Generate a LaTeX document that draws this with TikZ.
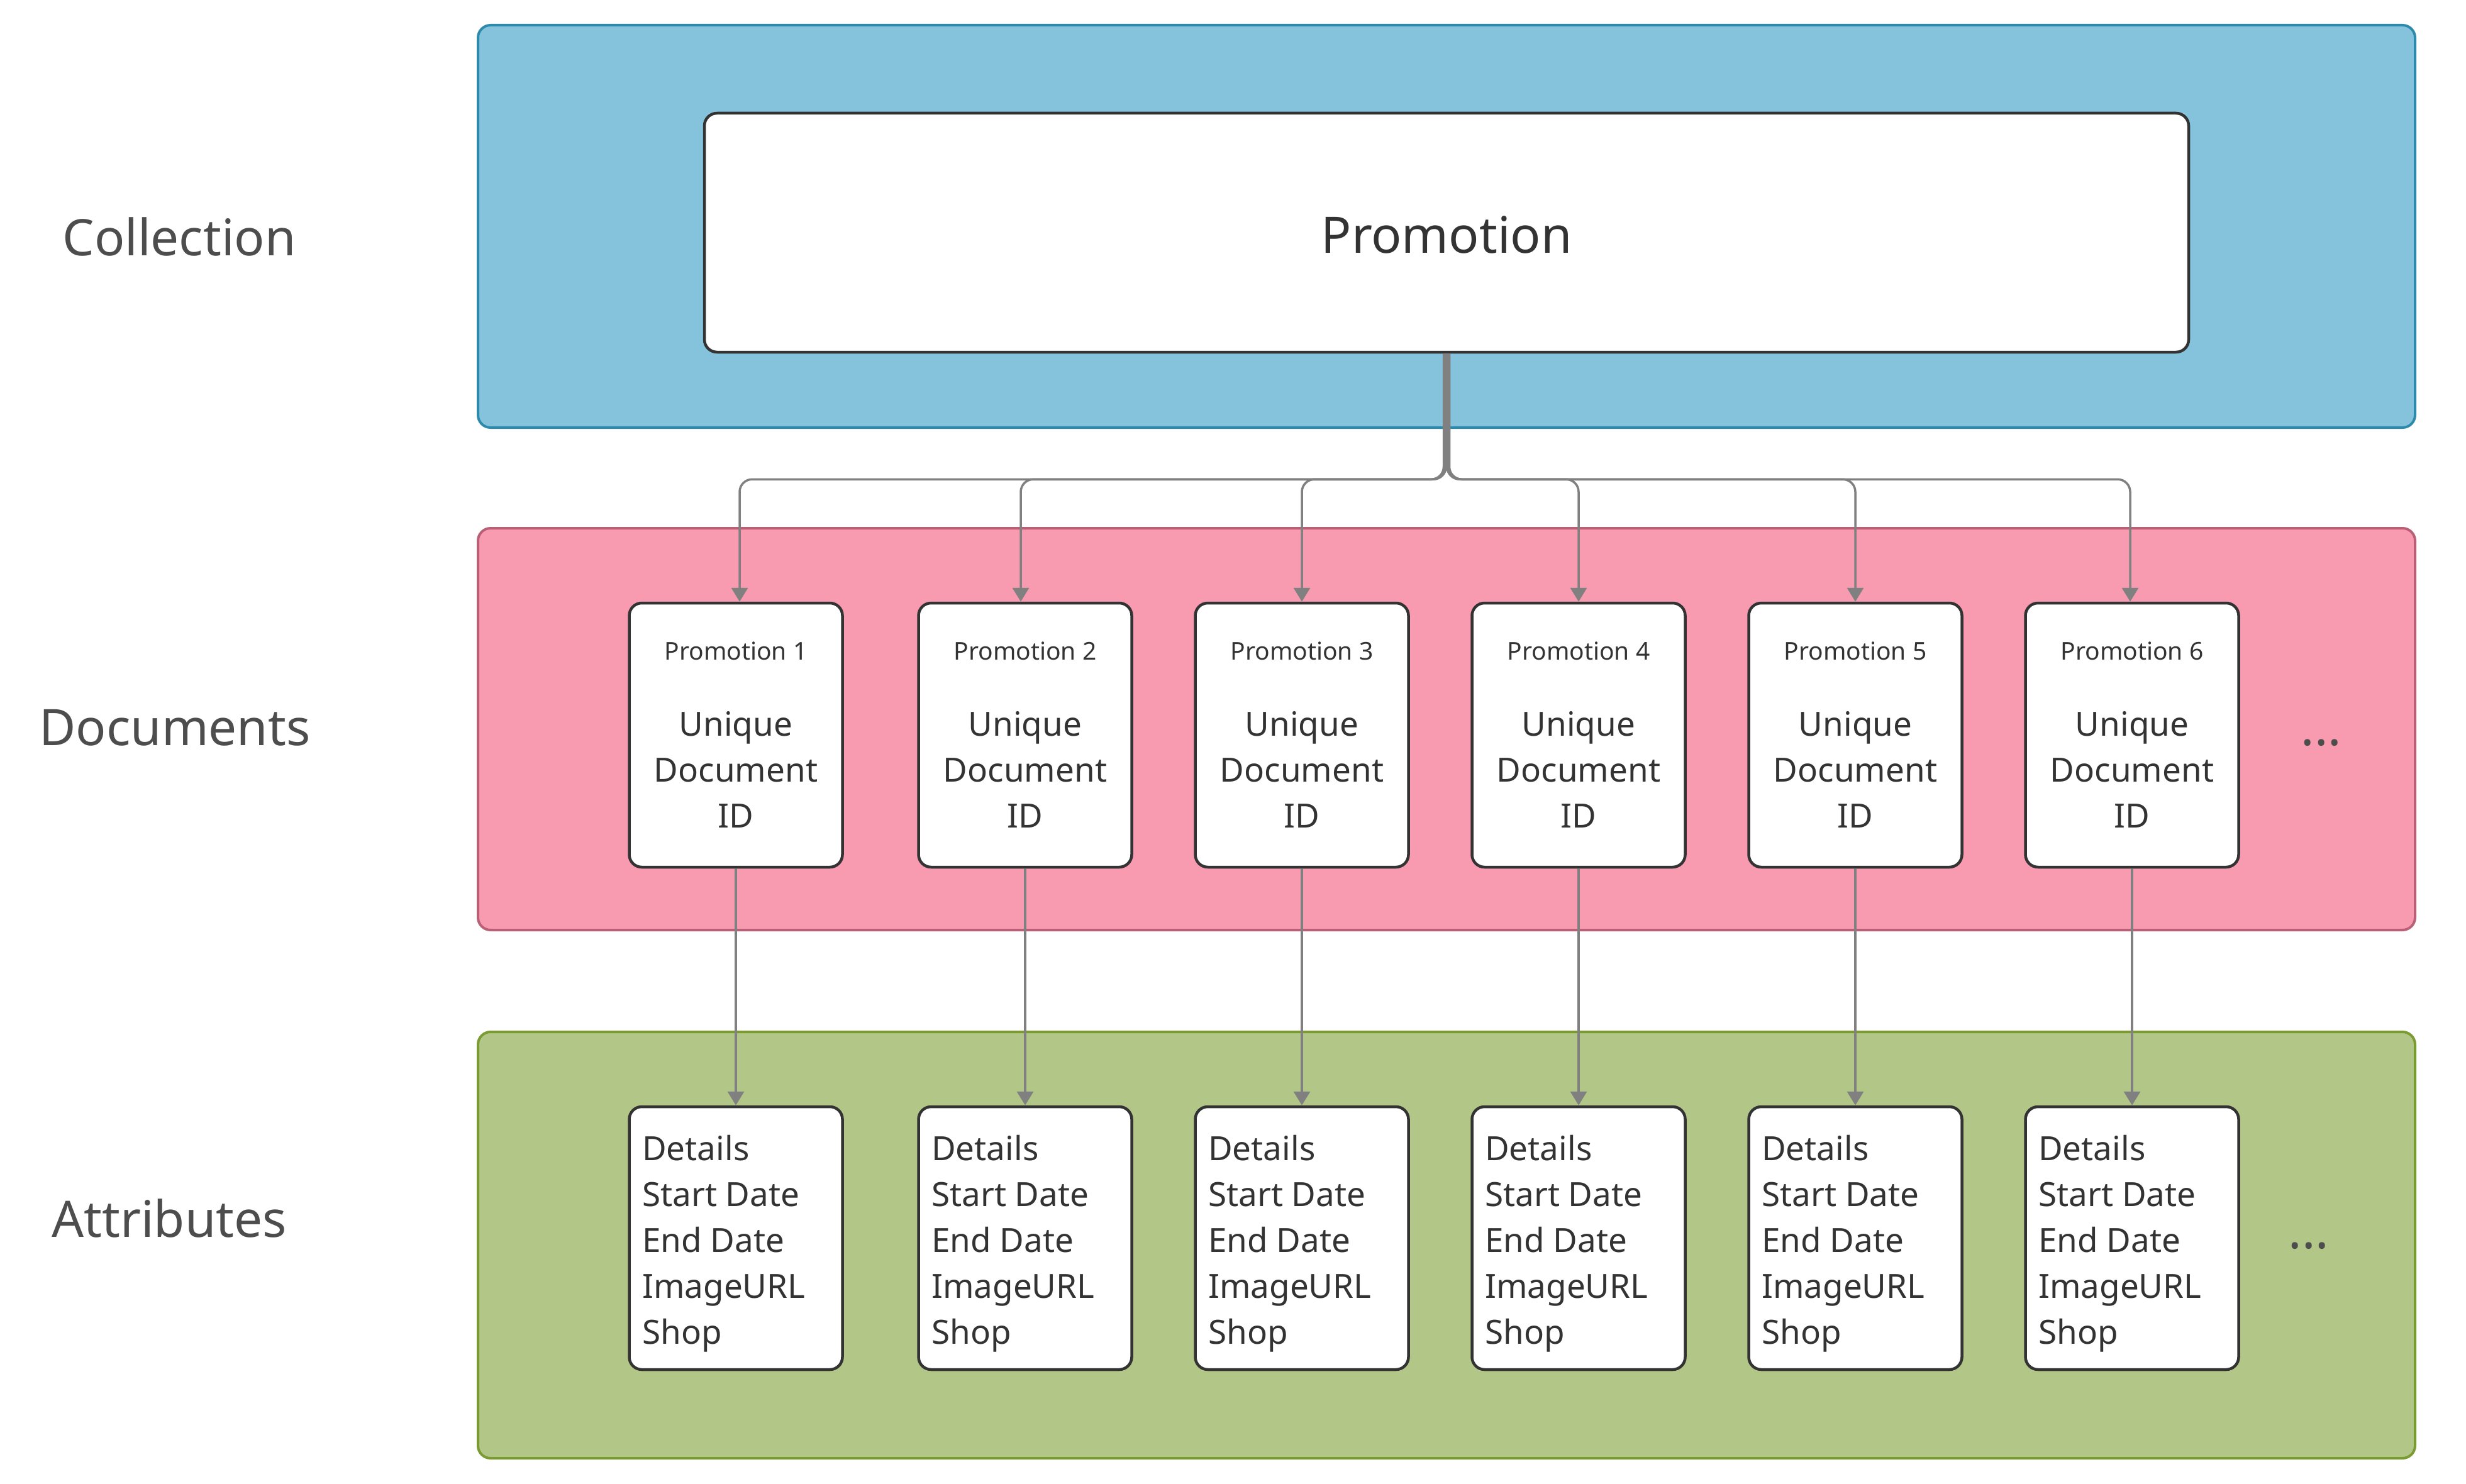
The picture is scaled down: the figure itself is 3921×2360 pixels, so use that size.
\documentclass[tikz,border=0pt]{standalone}
\usepackage{fontspec}
\setmainfont{Noto Sans}
\usetikzlibrary{arrows.meta}
\definecolor{bluefill}{HTML}{85C2DC}
\definecolor{blueline}{HTML}{2E8AAB}
\definecolor{pinkfill}{HTML}{F89AB0}
\definecolor{pinkline}{HTML}{B95F76}
\definecolor{greenfill}{HTML}{B2C687}
\definecolor{greenline}{HTML}{7A9A32}
\definecolor{boxline}{HTML}{333333}
\definecolor{txt}{HTML}{333333}
\definecolor{lbl}{HTML}{4D4D4D}
\definecolor{connc}{HTML}{808080}
\tikzset{
  container/.style={rectangle, rounded corners=20pt, line width=4pt, inner sep=0pt},
  whitebox/.style={rectangle, rounded corners=20pt, draw=boxline, fill=white, line width=4.5pt, inner sep=0pt},
  docbox/.style={whitebox, minimum width=339pt, minimum height=420pt},
  attrbox/.style={whitebox, minimum width=339pt, minimum height=418pt},
  rowlabel/.style={inner sep=0pt, anchor=base, text=lbl, font=\fontsize{80}{96}\selectfont},
  doctitle/.style={inner sep=0pt, anchor=base, text=txt, font=\fontsize{39}{47}\selectfont},
  docid/.style={inner sep=0pt, anchor=north, align=center, text=txt, font=\fontsize{53}{73}\selectfont},
  attrtext/.style={inner sep=0pt, anchor=north west, align=left, text=txt, font=\fontsize{53}{73}\selectfont},
  more/.style={inner sep=0pt, anchor=base, text=lbl, font=\fontsize{80}{96}\selectfont},
  conn/.style={draw=connc, line width=3.5pt, -{Triangle[length=22pt,width=26pt]}},
}
\begin{document}
\begin{tikzpicture}[x=1pt,y=-1pt]
\useasboundingbox (0,0) rectangle (3921,2360);
% containers
\node[container, fill=bluefill, draw=blueline, minimum width=3080pt, minimum height=640pt] (coll) at (2300,360) {};
\node[container, fill=pinkfill, draw=pinkline, minimum width=3080pt, minimum height=639pt] (docs) at (2300,1159.5) {};
\node[container, fill=greenfill, draw=greenline, minimum width=3080pt, minimum height=678pt] (attrs) at (2300,1980) {};
% row labels
\node[rowlabel] (lcoll) at (285,406) {Collection};
\node[rowlabel] (ldocs) at (278,1185) {Documents};
\node[rowlabel] (lattr) at (269,1967) {Attributes};
% main collection box
\node[whitebox, minimum width=2360pt, minimum height=380pt] (prom) at (2300,370) {};
\node[rowlabel, text=txt] (promt) at (2300,402) {Promotion};
% document boxes
\foreach \i/\x in {1/1170,2/1630,3/2070,4/2510,5/2950,6/3390}{
  \node[docbox] (d\i) at (\x,1169) {};
  \node[doctitle] (d\i t) at (\x,1049) {Promotion \i};
  \node[docid] (d\i id) at (\x,1131) {Unique\\Document\\ID};
  \node[attrbox] (a\i) at (\x,1969) {};
  \node[attrtext] (a\i t) at (\x-149,1805) {Details\\Start Date\\End Date\\ImageURL\\Shop};
}
\node[more] (m1) at (3691,1185) {...};
\node[more] (m2) at (3671,1985) {...};
% connectors from collection to documents
\draw[conn, rounded corners=20pt] ([xshift=-4.5pt]prom.south) -- ++(0,200) -| ([xshift=6pt]d1.north);
\draw[conn, rounded corners=20pt] ([xshift=-2.7pt]prom.south) -- ++(0,200) -| ([xshift=-7pt]d2.north);
\draw[conn, rounded corners=20pt] ([xshift=-0.9pt]prom.south) -- ++(0,200) -| (d3.north);
\draw[conn, rounded corners=20pt] ([xshift=0.9pt]prom.south) -- ++(0,200) -| (d4.north);
\draw[conn, rounded corners=20pt] ([xshift=2.7pt]prom.south) -- ++(0,200) -| (d5.north);
\draw[conn, rounded corners=20pt] ([xshift=4.5pt]prom.south) -- ++(0,200) -| ([xshift=-3pt]d6.north);
% connectors from documents to attributes
\foreach \i in {1,...,6}{
  \draw[conn] (d\i.south) -- (a\i.north);
}
\end{tikzpicture}
\end{document}
